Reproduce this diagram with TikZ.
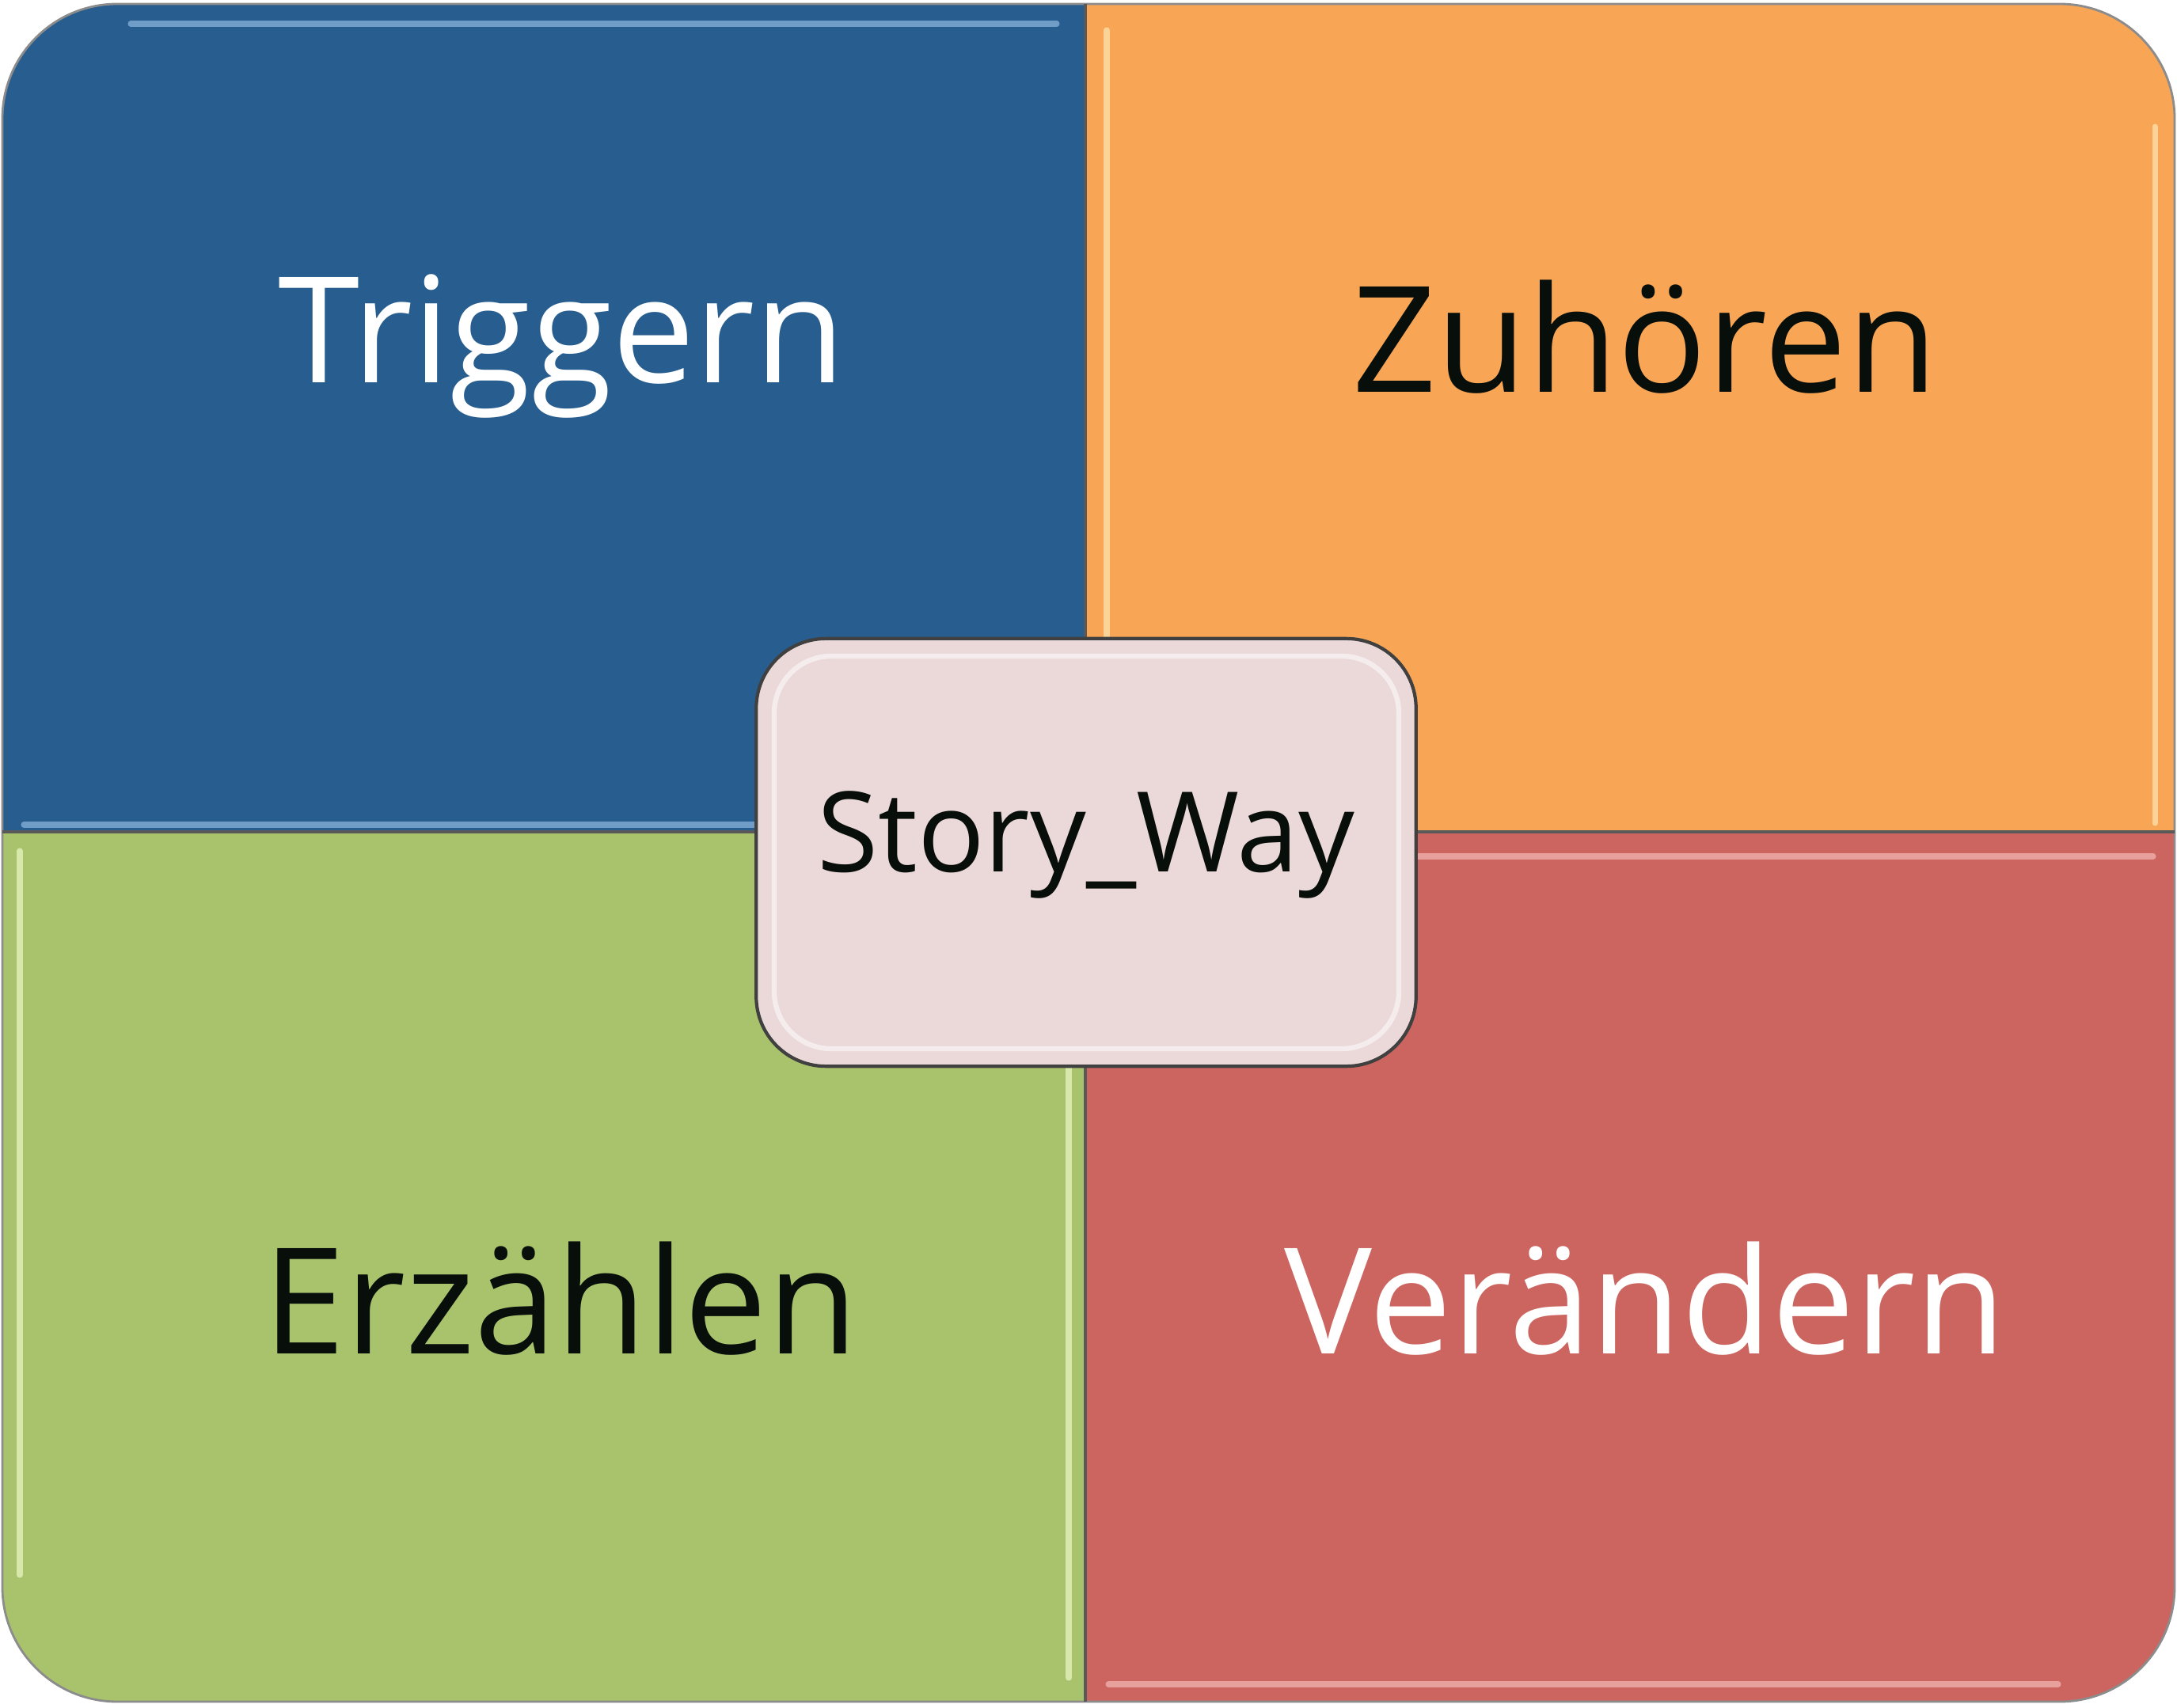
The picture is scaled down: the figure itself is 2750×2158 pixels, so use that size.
\documentclass[tikz,border=0pt]{standalone}
\usepackage{fontspec}
\setmainfont{Open Sans}
\definecolor{trigblue}{RGB}{40,94,143}
\definecolor{zuhorange}{RGB}{248,166,86}
\definecolor{erzgreen}{RGB}{169,195,109}
\definecolor{verred}{RGB}{204,101,95}
\definecolor{corepink}{RGB}{235,217,217}
\definecolor{textdark}{RGB}{8,14,10}

\begin{document}
\begin{tikzpicture}[x=0.01cm, y=-0.01cm]
        \tikzstyle{field} = [font=\fontsize{53}{60}\selectfont, anchor=base, inner sep=0pt]
        \tikzstyle{gloss} = [line width=2pt, line cap=round, opacity=0.6]
        \tikzstyle{seam} = [draw=black!65, line width=0.9pt]
        \tikzstyle{core} = [draw=black!75, line width=1.2pt, fill=corepink, rounded corners=0.88cm, minimum width=8.33cm, minimum height=5.4cm]
        \useasboundingbox (0,0) rectangle (2750,2158);
        \begin{scope}
            \clip[rounded corners=1.45cm] (3,5) rectangle (2747,2150);
            \fill[trigblue] (3,5) rectangle (1371,1051);
            \fill[zuhorange] (1371,5) rectangle (2747,1051);
            \fill[erzgreen] (3,1051) rectangle (1371,2150);
            \fill[verred] (1371,1051) rectangle (2747,2150);
            \draw[gloss, color={rgb,255:red,160;green,198;blue,238}] (165,30) -- (1335,30);
            \draw[gloss, color={rgb,255:red,160;green,198;blue,238}] (30,1042) -- (1360,1042);
            \draw[gloss, color={rgb,255:red,255;green,242;blue,195}] (1398,38) -- (1398,1040);
            \draw[gloss, color={rgb,255:red,255;green,242;blue,195}] (2722,160) -- (2722,1040);
            \draw[gloss, color={rgb,255:red,248;green,255;blue,215}] (25,1075) -- (25,1990);
            \draw[gloss, color={rgb,255:red,248;green,255;blue,215}] (1350,1070) -- (1350,2120);
            \draw[gloss, color={rgb,255:red,250;green,200;blue,195}] (1395,1082) -- (2720,1082);
            \draw[gloss, color={rgb,255:red,250;green,200;blue,195}] (1400,2128) -- (2600,2128);
        \end{scope}
        \draw[black!45, line width=0.8pt, rounded corners=1.45cm] (3,5) rectangle (2747,2150);
        \draw[seam] (1371,5) -- (1371,2150);
        \draw[seam] (3,1051) -- (2747,1051);
        \node[core] (core) at (1372,1077) {};
        \draw[white, line width=1.8pt, opacity=0.55, rounded corners=0.72cm] (978,829) rectangle (1767,1325);
        \node[field, text=white] (triggern) at (710,484) {Triggern};
        \node[field, text=textdark] (zuhoeren) at (2078,496) {Zuhören};
        \node[field, text=textdark] (erzaehlen) at (708,1710) {Erzählen};
        \node[field, text=white] (veraendern) at (2078,1710) {Verändern};
        \node[field, font=\fontsize{40}{48}\selectfont, text=textdark] (storyway) at (1372,1101) {Story\_Way};
    \end{tikzpicture}
\end{document}
